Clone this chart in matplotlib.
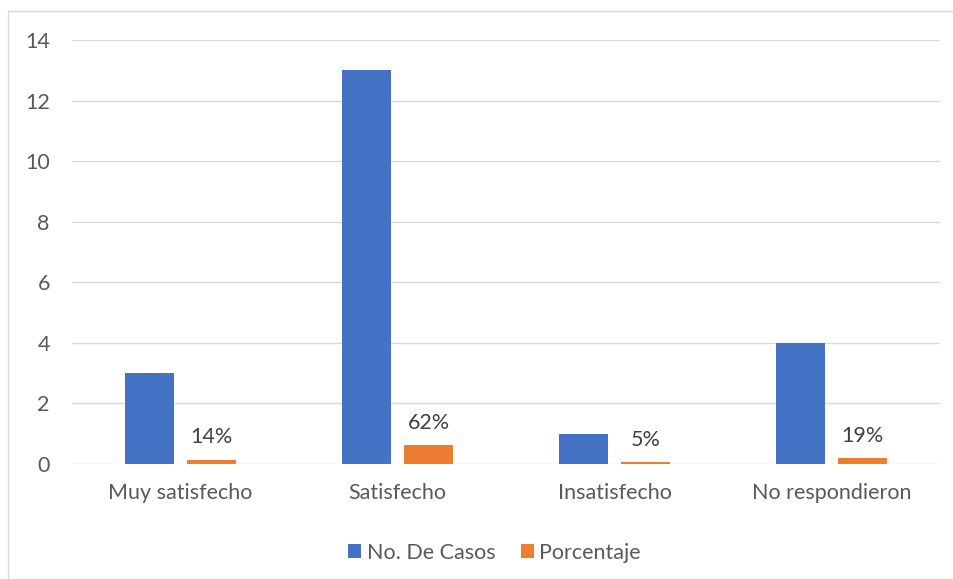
import matplotlib
matplotlib.use("Agg")
import matplotlib.pyplot as plt
import numpy as np
from matplotlib.patches import Rectangle

categories = ["Muy satisfecho", "Satisfecho", "Insatisfecho", "No respondieron"]
casos = [3, 13, 1, 4]
porcentaje = [0.14, 0.62, 0.05, 0.19]
porcentaje_labels = ["14%", "62%", "5%", "19%"]
yticks = [0, 2, 4, 6, 8, 10, 12, 14]

plt.rcParams['font.family'] = ['Lato', 'DejaVu Sans']

W, H = 954, 579
fs = 15.5
fig = plt.figure(figsize=(W/100, H/100), dpi=100)
fig.patches.append(Rectangle((8/W, -0.1), 1.2, 1 - 11/H + 0.1, transform=fig.transFigure,
                             fill=False, edgecolor='#D9D9D9', linewidth=1.0))
ax = fig.add_axes([72/W, 1-464/H, (940-72)/W, (464-40)/H])

x = np.arange(len(categories))
bw = 0.226
off = 0.143
ax.bar(x - off, casos, bw, color='#4472C4', label='No. De Casos', zorder=3)
ax.bar(x + off, porcentaje, bw, color='#ED7D31', label='Porcentaje', zorder=3)
for xi, v, lab in zip(x, porcentaje, porcentaje_labels):
    ax.annotate(lab, (xi + off, v), xytext=(0, 9), textcoords='offset points',
                ha='center', va='bottom', fontsize=fs, color='#404040')

ax.set_xlim(-0.5, len(categories) - 0.5)
ax.set_ylim(0, 14)
ax.set_yticks(yticks)
ax.set_xticks(x)
ax.set_xticklabels(categories)
ax.grid(axis='y', color='#D9D9D9', linewidth=1.0, zorder=0)
for s in ax.spines.values():
    s.set_visible(False)
ax.tick_params(axis='both', length=0, labelsize=fs, labelcolor='#595959')
ax.tick_params(axis='y', pad=16)
ax.tick_params(axis='x', pad=14)

ax.legend(loc='upper center', bbox_to_anchor=(0.487, -0.14), ncol=2, frameon=False,
          fontsize=fs, labelcolor='#595959', handlelength=0.6, handleheight=0.6,
          handletextpad=0.25, columnspacing=1.2)

fig.savefig('out.png', dpi=100)
